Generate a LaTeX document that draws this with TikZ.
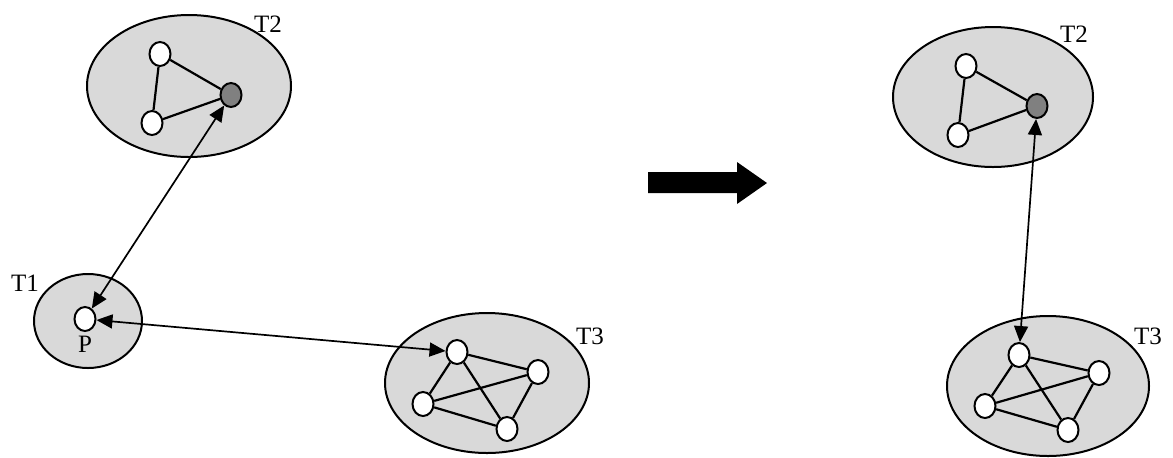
\documentclass[tikz,border=0pt]{standalone}
\usepackage{fontspec}
\setmainfont{Liberation Serif}
\usetikzlibrary{arrows.meta,shapes.geometric}

\tikzset{every picture/.style={line width=0.75pt}}
\tikzset{
  cluster/.style={draw, fill={rgb,255:red,217;green,217;blue,217}, line width=1pt},
  peer/.style={ellipse, draw, fill=white, inner sep=0pt, minimum width=10.5pt, minimum height=12pt, line width=1pt},
  leader/.style={peer, fill={rgb,255:red,128;green,128;blue,128}},
  link/.style={line width=1.1pt},
  msg/.style={line width=0.85pt, {Triangle[length=8pt,width=7pt]}-{Triangle[length=8pt,width=7pt]}},
  tag/.style={inner sep=0pt, font=\fontsize{12.5}{14}\selectfont}
}

\begin{document}
\begin{tikzpicture}[x=0.5pt,y=0.5pt,yscale=-1,xscale=1]
\useasboundingbox (0,0) rectangle (1173,457);

%Shape: Ellipse (left T2)
\draw [cluster] (189,86) ellipse (102 and 71);
%Shape: Ellipse (T1)
\draw [cluster] (88,321) ellipse (54 and 47);
%Shape: Ellipse (left T3)
\draw [cluster] (487,383) ellipse (102 and 70);
%Shape: Ellipse (right T2)
\draw [cluster] (993,97) ellipse (100 and 70);
%Shape: Ellipse (right T3)
\draw [cluster] (1048,386) ellipse (101 and 70);

% left T2 peers
\node [peer] (a1) at (160,54) {};
\node [peer] (a2) at (152,123) {};
\node [leader] (a3) at (231,95) {};
\draw [link] (a1) -- (a2);
\draw [link] (a1) -- (a3);
\draw [link] (a2) -- (a3);

% T1 peer
\node [peer] (p) at (85,319) {};

% left T3 peers
\node [peer] (b1) at (457,352) {};
\node [peer] (b2) at (538,372) {};
\node [peer] (b3) at (423,404) {};
\node [peer] (b4) at (507,429) {};
\draw [link] (b1) -- (b2);
\draw [link] (b1) -- (b3);
\draw [link] (b1) -- (b4);
\draw [link] (b3) -- (b2);
\draw [link] (b3) -- (b4);
\draw [link] (b2) -- (b4);

% right T2 peers
\node [peer] (c1) at (966,66) {};
\node [peer] (c2) at (958,135) {};
\node [leader] (c3) at (1037,106) {};
\draw [link] (c1) -- (c2);
\draw [link] (c1) -- (c3);
\draw [link] (c2) -- (c3);

% right T3 peers
\node [peer] (d1) at (1019,355) {};
\node [peer] (d2) at (1099,373) {};
\node [peer] (d3) at (985,406) {};
\node [peer] (d4) at (1068,430) {};
\draw [link] (d1) -- (d2);
\draw [link] (d1) -- (d3);
\draw [link] (d1) -- (d4);
\draw [link] (d3) -- (d2);
\draw [link] (d3) -- (d4);
\draw [link] (d2) -- (d4);

%Straight Lines
\draw [msg] (a3) -- (p);
\draw [msg] (p) -- (b1);
\draw [msg] (c3) -- (d1);

%Shape: Right Arrow
\fill (648,172) -- (737,172) -- (737,162) -- (767,183) -- (737,204) -- (737,193) -- (648,193) -- cycle;

% Text Node
\node [tag] (t2a) at (268,24) {T2};
% Text Node
\node [tag] (t1) at (25,283) {T1};
% Text Node
\node [tag] (plbl) at (85,344) {P};
% Text Node
\node [tag] (t3a) at (590,336) {T3};
% Text Node
\node [tag] (t2b) at (1074,34) {T2};
% Text Node
\node [tag] (t3b) at (1148,336) {T3};

\end{tikzpicture}
\end{document}
